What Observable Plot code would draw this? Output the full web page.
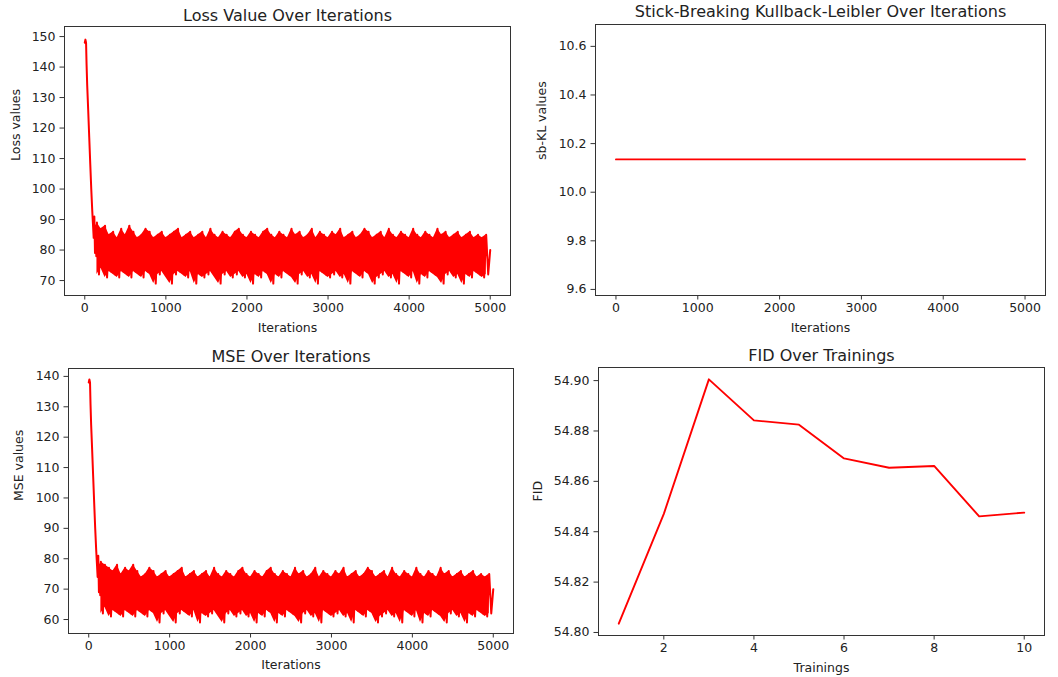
<!DOCTYPE html>
<html>
<head>
<meta charset="utf-8">
<script src="https://cdn.jsdelivr.net/npm/d3@7"></script>
<script src="https://cdn.jsdelivr.net/npm/@observablehq/plot@0.6"></script>
<style>
  html, body { margin: 0; padding: 0; background: #fff; }
  #root { position: relative; width: 1058px; height: 677px; overflow: hidden; font-family: "DejaVu Sans", sans-serif; }
  .panel { position: absolute; }
</style>
</head>
<body>
<div id="root"></div>
<script>
// ---------- data ----------
const iterTicks = [0, 1000, 2000, 3000, 4000, 5000];

const lossHeadIters  = [0, 8, 16, 22, 30, 42, 55, 68, 80, 92, 102, 110, 118, 126, 134, 142];
const lossHeadValues = [148, 149, 148, 141, 134, 126, 117, 108, 100, 93, 88, 84, 91, 79, 88, 78];
const noiseStart = 150;
const noiseStep = 25;
const lossNoiseValues = [
  89,72,87,74,88,71,85,73,86,72,84,71,87,73,85,72,88,71,86,73,
  84,72,85,71,87,73,86,72,84,69,85,72,86,73,84,71,85,69,86,72,
  87,73,84,72,85,71,86,73,84,69,85,72,86,71,84,72,87,73,85,71,
  84,69,86,72,85,73,84,71,86,72,87,73,85,71,84,72,86,69,85,72,
  84,71,86,73,87,72,85,69,84,72,86,71,85,73,84,72,87,71,85,69,
  86,72,84,73,85,71,87,72,84,69,86,73,85,72,84,71,86,72,85,73,
  87,71,84,72,85,69,86,73,84,72,85,71,87,73,86,72,84,69,85,71,
  86,72,84,73,87,71,85,72,84,69,86,73,85,72,84,71,87,73,85,69,
  84,72,86,71,85,73,84,72,87,71,85,69,86,72,84,73,85,71,86,72,
  84,69,85,72,86,71,84,73,85,72,84,71,85,72,80
];
const lossTicks = [70, 80, 90, 100, 110, 120, 130, 140, 150];

const mseHeadIters  = [0, 8, 16, 22, 30, 42, 55, 68, 80, 92, 102, 110, 118, 126, 134, 142];
const mseHeadValues = [138, 139, 138, 131, 124, 116, 107, 98, 90, 83, 78, 74, 81, 69, 78, 68];
const mseNoiseValues = [
  79,62,78,64,77,61,76,63,78,62,75,61,77,63,76,62,78,61,76,63,
  74,62,75,61,77,63,76,62,74,59,75,62,76,63,74,61,75,59,76,62,
  77,63,74,62,75,61,76,63,74,59,75,62,76,61,74,62,77,63,75,61,
  74,59,76,62,75,63,74,61,76,62,77,63,75,61,74,62,76,59,75,62,
  74,61,76,63,77,62,75,59,74,62,76,61,75,63,74,62,77,61,75,59,
  76,62,74,63,75,61,77,62,74,59,76,63,75,62,74,61,76,62,75,63,
  77,61,74,62,75,59,76,63,74,62,75,61,77,63,76,62,74,59,75,61,
  76,62,74,63,77,61,75,62,74,59,76,63,75,62,74,61,77,63,75,59,
  74,62,76,61,75,63,74,62,77,61,75,59,76,62,74,63,75,61,76,62,
  74,59,75,62,76,61,74,63,75,62,74,61,75,62,70
];
const mseTicks = [60, 70, 80, 90, 100, 110, 120, 130, 140];

const klIters  = [0, 4999];
const klValues = [10.135, 10.135];
const klTicks  = [9.6, 9.8, 10.0, 10.2, 10.4, 10.6];

const fidTrainings = [1, 2, 3, 4, 5, 6, 7, 8, 9, 10];
const fidValues = [54.8035, 54.8471, 54.9005, 54.8842, 54.8825, 54.8691, 54.8654, 54.8661, 54.8461, 54.8476];
const fidXTicks = [2, 4, 6, 8, 10];
const fidYTicks = [54.80, 54.82, 54.84, 54.86, 54.88, 54.90];

// ---------- helpers ----------
function series(headIters, headValues, noiseValues) {
  const rows = headIters.map((x, i) => ({x, y: headValues[i]}));
  noiseValues.forEach((y, i) => rows.push({x: noiseStart + i * noiseStep, y}));
  return rows;
}
// pairs of consecutive noise samples (high, low) used to fill the dense band
function band(noiseValues) {
  const rows = [];
  for (let i = 0; i + 1 < noiseValues.length; i += 2) {
    const a = noiseValues[i], b = noiseValues[i + 1];
    rows.push({x: noiseStart + i * noiseStep, lo: Math.min(a, b), hi: Math.max(a, b)});
  }
  return rows;
}

const root = document.getElementById("root");
const RED = "#ff0000";
const INK = "#333";

function panel(opts) {
  const {left, top, width, height, margins, xDomain, yDomain, xTicks, yTicks,
         xFormat, yFormat, data, bandData, title, xLabel, yLabel, lineWidth,
         titleDy, xLabelDy, yLabelDx} = opts;
  const chart = Plot.plot({
    width, height,
    marginLeft: margins[0], marginTop: margins[1], marginRight: margins[2], marginBottom: margins[3],
    style: {fontFamily: "DejaVu Sans, sans-serif", fontSize: "12.5px", color: INK, background: "transparent", overflow: "visible"},
    x: {domain: xDomain},
    y: {domain: yDomain},
    marks: [
      bandData ? Plot.areaY(bandData, {x: "x", y1: "lo", y2: "hi", fill: RED}) : null,
      Plot.line(data, {x: "x", y: "y", stroke: RED, strokeWidth: lineWidth, strokeLinejoin: "round"}),
      Plot.frame({stroke: INK, strokeWidth: 1}),
      Plot.axisX({ticks: xTicks, tickFormat: xFormat, tickSize: 4.5, tickPadding: 3.5, label: null, fill: "#222"}),
      Plot.axisY({ticks: yTicks, tickFormat: yFormat, tickSize: 4.5, tickPadding: 4.5, label: null, fill: "#222"}),
      Plot.text([title], {frameAnchor: "top", lineAnchor: "middle", dy: titleDy, fontSize: 16, fill: "#222"}),
      Plot.text([xLabel], {frameAnchor: "bottom", lineAnchor: "middle", dy: xLabelDy, fontSize: 12.5, fill: "#222"}),
      Plot.text([yLabel], {frameAnchor: "left", lineAnchor: "middle", dx: yLabelDx, rotate: -90, fontSize: 12.5, fill: "#222"})
    ]
  });
  chart.classList.add("panel");
  chart.style.left = left + "px";
  chart.style.top = top + "px";
  root.appendChild(chart);
}

const intFmt = d3.format("d");

panel({
  left: 0, top: 0, width: 529, height: 340, margins: [64, 26, 19, 45],
  xDomain: [-250, 5250], yDomain: [65.1, 153.3],
  xTicks: iterTicks, yTicks: lossTicks, xFormat: intFmt, yFormat: intFmt,
  data: series(lossHeadIters, lossHeadValues, lossNoiseValues), bandData: band(lossNoiseValues), lineWidth: 2,
  title: "Loss Value Over Iterations", xLabel: "Iterations", yLabel: "Loss values",
  titleDy: -11, xLabelDy: 32, yLabelDx: -49
});

panel({
  left: 528, top: 0, width: 530, height: 340, margins: [67, 24, 13, 45],
  xDomain: [-250, 5250], yDomain: [9.575, 10.69],
  xTicks: iterTicks, yTicks: klTicks, xFormat: intFmt, yFormat: d3.format(".1f"),
  data: klIters.map((x, i) => ({x, y: klValues[i]})), lineWidth: 1.9,
  title: "Stick-Breaking Kullback-Leibler Over Iterations", xLabel: "Iterations", yLabel: "sb-KL values",
  titleDy: -13, xLabelDy: 32, yLabelDx: -54
});

panel({
  left: 0, top: 340, width: 528, height: 337, margins: [68, 28, 15, 44],
  xDomain: [-250, 5250], yDomain: [55.4, 142.6],
  xTicks: iterTicks, yTicks: mseTicks, xFormat: intFmt, yFormat: intFmt,
  data: series(mseHeadIters, mseHeadValues, mseNoiseValues), bandData: band(mseNoiseValues), lineWidth: 2,
  title: "MSE Over Iterations", xLabel: "Iterations", yLabel: "MSE values",
  titleDy: -12, xLabelDy: 31, yLabelDx: -50
});

panel({
  left: 528, top: 340, width: 530, height: 337, margins: [70, 27, 14, 42],
  xDomain: [0.55, 10.45], yDomain: [54.7988, 54.9052],
  xTicks: fidXTicks, yTicks: fidYTicks, xFormat: intFmt, yFormat: d3.format(".2f"),
  data: fidTrainings.map((x, i) => ({x, y: fidValues[i]})), lineWidth: 1.9,
  title: "FID Over Trainings", xLabel: "Trainings", yLabel: "FID",
  titleDy: -12, xLabelDy: 32, yLabelDx: -61
});
</script>
</body>
</html>
